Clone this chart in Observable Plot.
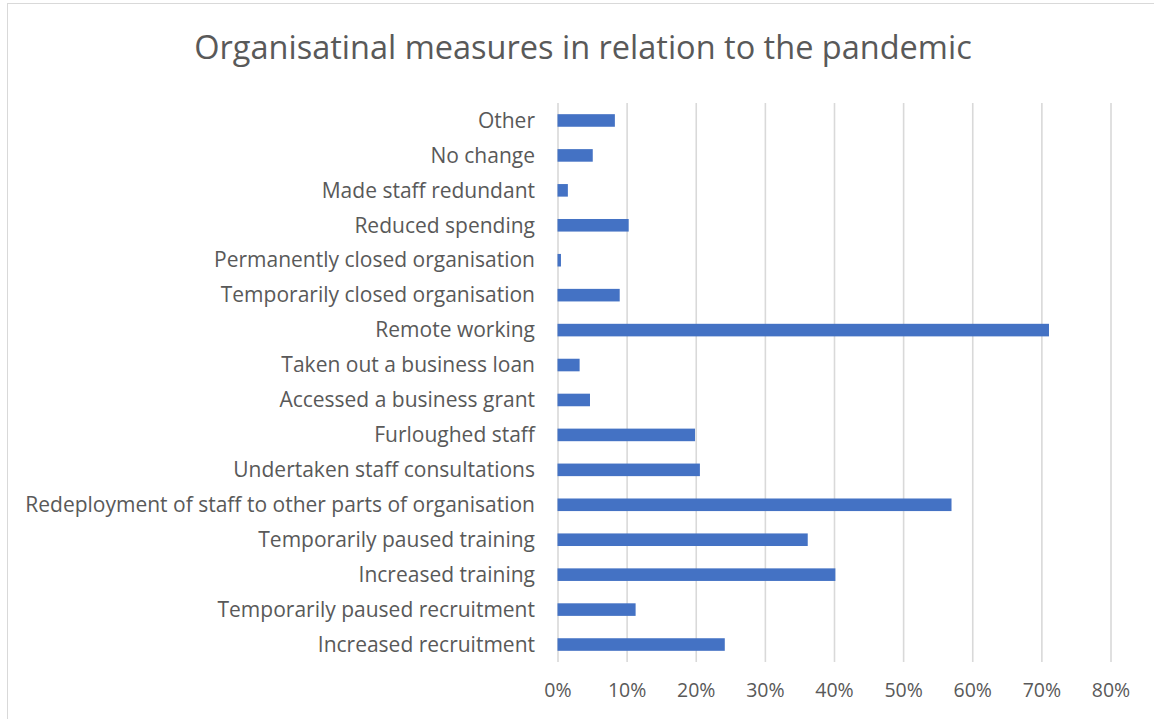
<!DOCTYPE html>
<html>
<head>
<meta charset="utf-8">
<script src="https://cdn.jsdelivr.net/npm/d3@7"></script>
<script src="https://cdn.jsdelivr.net/npm/@observablehq/plot@0.6"></script>
<style>
  html, body { margin: 0; padding: 0; background: #fff; }
  #wrap { position: relative; width: 1154px; height: 719px; overflow: hidden; font-family: "Open Sans", sans-serif; }
  #frame { position: absolute; left: 7px; top: 3px; width: 1200px; height: 800px; border-left: 1.5px solid #d9d9d9; border-top: 1.5px solid #d9d9d9; box-sizing: border-box; }
  #title { position: absolute; left: 0; top: 24px; width: 1166px; text-align: center; font-size: 32.5px; color: #595959; font-family: "Open Sans", sans-serif; font-weight: 400; }
  #chart { position: absolute; left: 0; top: 0; }
</style>
</head>
<body>
<div id="wrap">
  <div id="frame"></div>
  <div id="title">Organisatinal measures in relation to the pandemic</div>
  <div id="chart"></div>
</div>
<script>
const categories = [
  "Other",
  "No change",
  "Made staff redundant",
  "Reduced spending",
  "Permanently closed organisation",
  "Temporarily closed organisation",
  "Remote working",
  "Taken out a business loan",
  "Accessed a business grant",
  "Furloughed staff",
  "Undertaken staff consultations",
  "Redeployment of staff to other parts of organisation",
  "Temporarily paused training",
  "Increased training",
  "Temporarily paused recruitment",
  "Increased recruitment"
];
const values = [0.083, 0.051, 0.015, 0.103, 0.005, 0.090, 0.711, 0.032, 0.047, 0.199, 0.206, 0.570, 0.362, 0.402, 0.113, 0.242];
const xTicks = [0, 0.1, 0.2, 0.3, 0.4, 0.5, 0.6, 0.7, 0.8];

const data = categories.map((c, i) => ({category: c, value: values[i]}));

const chart = Plot.plot({
  width: 1154,
  height: 719,
  marginLeft: 557.5,
  marginRight: 43.5,
  marginTop: 103,
  marginBottom: 57,
  style: {fontFamily: "'Open Sans', sans-serif", fontSize: "20px", color: "#595959", background: "transparent"},
  x: {domain: [0, 0.8], ticks: xTicks, tickFormat: d => Math.round(d * 100) + "%", label: null, tickSize: 0, tickPadding: 21},
  y: {domain: categories, paddingInner: 0.64, paddingOuter: 0.32, round: false, label: null, tickSize: 0, tickPadding: 23},
  marks: [
    Plot.gridX(xTicks, {stroke: "#d9d9d9", strokeOpacity: 1, strokeWidth: 1.6}),
    Plot.barX(data, {x: "value", y: "category", fill: "#4472C4"}),
    Plot.axisX({ticks: xTicks, tickFormat: d => Math.round(d * 100) + "%", tickSize: 0, tickPadding: 21, fill: "#595959", fontSize: 19.5, label: null}),
    Plot.axisY({tickSize: 0, tickPadding: 23, fill: "#595959", fontSize: 21, label: null})
  ]
});
document.getElementById("chart").appendChild(chart);
</script>
</body>
</html>
